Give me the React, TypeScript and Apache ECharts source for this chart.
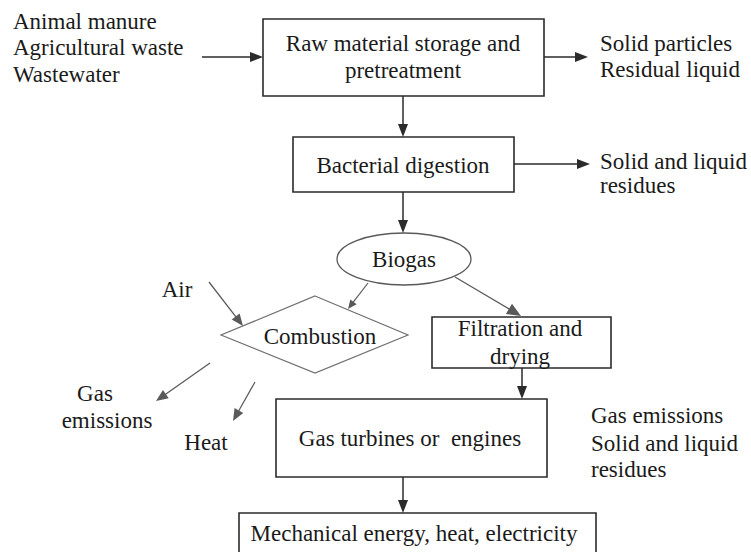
import React, { useEffect, useRef } from "react";
import * as echarts from "echarts";

// ---- Text content of the flowchart ----
const inputLabels = ["Animal manure", "Agricultural waste", "Wastewater"];
const pretreatLabel = ["Raw material storage and", "pretreatment"];
const pretreatOutputs = ["Solid particles", "Residual liquid"];
const digestionLabel = ["Bacterial digestion"];
const digestionOutputs = ["Solid and liquid", "residues"];
const biogasLabel = ["Biogas"];
const airLabel = ["Air"];
const combustionLabel = ["Combustion"];
const combustionGasLabel = ["Gas", "emissions"];
const heatLabel = ["Heat"];
const filtrationLabel = ["Filtration and", "drying"];
const engineLabel = ["Gas turbines or  engines"];
const engineOutputs = ["Gas emissions", "Solid and liquid", "residues"];
const finalLabel = ["Mechanical energy, heat, electricity"];

const FONT = "Liberation Serif";
const FS = 23;
const DARK = "#2b2b2b";
const GREY = "#5a5a5a";

function txt(s: string, x: number, y: number, align: string = "center") {
  return {
    type: "text",
    x,
    y,
    style: {
      text: s,
      fill: "#1a1a1a",
      fontFamily: FONT,
      fontSize: FS,
      textAlign: align,
      textVerticalAlign: "middle",
    },
  };
}

function lines(arr: string[], x: number, ys: number[], align: string = "center") {
  return arr.map((s, i) => txt(s, x, ys[i], align));
}

function box(x: number, y: number, w: number, h: number) {
  return {
    type: "rect",
    shape: { x, y, width: w, height: h },
    style: { fill: "#fff", stroke: DARK, lineWidth: 1.6 },
  };
}

function arrow(
  x1: number,
  y1: number,
  x2: number,
  y2: number,
  color: string = DARK,
  len: number = 13,
  half: number = 5,
  lw: number = 1.5
) {
  const dx = x2 - x1;
  const dy = y2 - y1;
  const d = Math.sqrt(dx * dx + dy * dy);
  const ux = dx / d;
  const uy = dy / d;
  const bx = x2 - ux * len;
  const by = y2 - uy * len;
  const px = -uy;
  const py = ux;
  return [
    {
      type: "line",
      shape: { x1, y1, x2: bx + ux * 2, y2: by + uy * 2 },
      style: { stroke: color, lineWidth: lw },
    },
    {
      type: "polygon",
      shape: {
        points: [
          [x2, y2],
          [bx + px * half, by + py * half],
          [bx - px * half, by - py * half],
        ],
      },
      style: { fill: color },
    },
  ];
}

export default function App() {
  const ref = useRef<HTMLDivElement>(null);
  useEffect(() => {
    if (!ref.current) return;
    const chart = echarts.init(ref.current, null, { renderer: "svg" });
    const elements: any[] = [
      { type: "rect", shape: { x: 0, y: 0, width: 751, height: 552 }, style: { fill: "#fff" } },
      // boxes
      box(263, 19, 281, 77),
      box(293, 137, 221, 55),
      {
        type: "ellipse",
        shape: { cx: 404, cy: 259, rx: 67, ry: 26 },
        style: { fill: "#fff", stroke: GREY, lineWidth: 1.3 },
      },
      {
        type: "polygon",
        shape: {
          points: [
            [315, 296],
            [408, 335],
            [315, 373],
            [221, 335],
          ],
        },
        style: { fill: "#fff", stroke: "#707070", lineWidth: 1.2 },
      },
      box(432, 317, 179, 51),
      box(276, 399, 271, 78),
      box(239, 513, 357, 50),
      // arrows
      ...arrow(202, 57, 263, 57),
      ...arrow(544, 57, 588, 57),
      ...arrow(403, 96, 403, 137),
      ...arrow(514, 164, 590, 164),
      ...arrow(403, 192, 403, 233),
      ...arrow(368, 283, 348, 309, GREY, 9, 4, 1.2),
      ...arrow(455, 277, 521, 316, GREY, 14, 6, 1.3),
      ...arrow(209, 282, 243, 326, GREY, 12, 5, 1.3),
      ...arrow(210, 363, 156, 401, GREY, 12, 5, 1.3),
      ...arrow(255, 382, 233, 421, GREY, 12, 5, 1.3),
      ...arrow(522, 368, 522, 399),
      ...arrow(403, 477, 403, 513),
      // texts
      ...lines(inputLabels, 13, [21, 47, 74], "left"),
      ...lines(pretreatLabel, 403, [43, 70]),
      ...lines(pretreatOutputs, 600, [43, 69], "left"),
      ...lines(digestionLabel, 403, [165]),
      ...lines(digestionOutputs, 600, [161, 185], "left"),
      ...lines(biogasLabel, 404, [259]),
      ...lines(airLabel, 177, [289]),
      ...lines(combustionLabel, 320, [336]),
      txt(combustionGasLabel[0], 95, 393),
      txt(combustionGasLabel[1], 107, 420),
      ...lines(heatLabel, 206, [442]),
      ...lines(filtrationLabel, 520, [328, 356]),
      ...lines(engineLabel, 410, [438]),
      ...lines(engineOutputs, 591, [415, 443, 469], "left"),
      ...lines(finalLabel, 414, [533]),
    ];
    chart.setOption({
      animation: false,
      backgroundColor: "#fff",
      graphic: { elements },
    });
    return () => chart.dispose();
  }, []);
  return (
    <div
      ref={ref}
      style={{ position: "absolute", left: 0, top: 0, width: 751, height: 552 }}
    />
  );
}
